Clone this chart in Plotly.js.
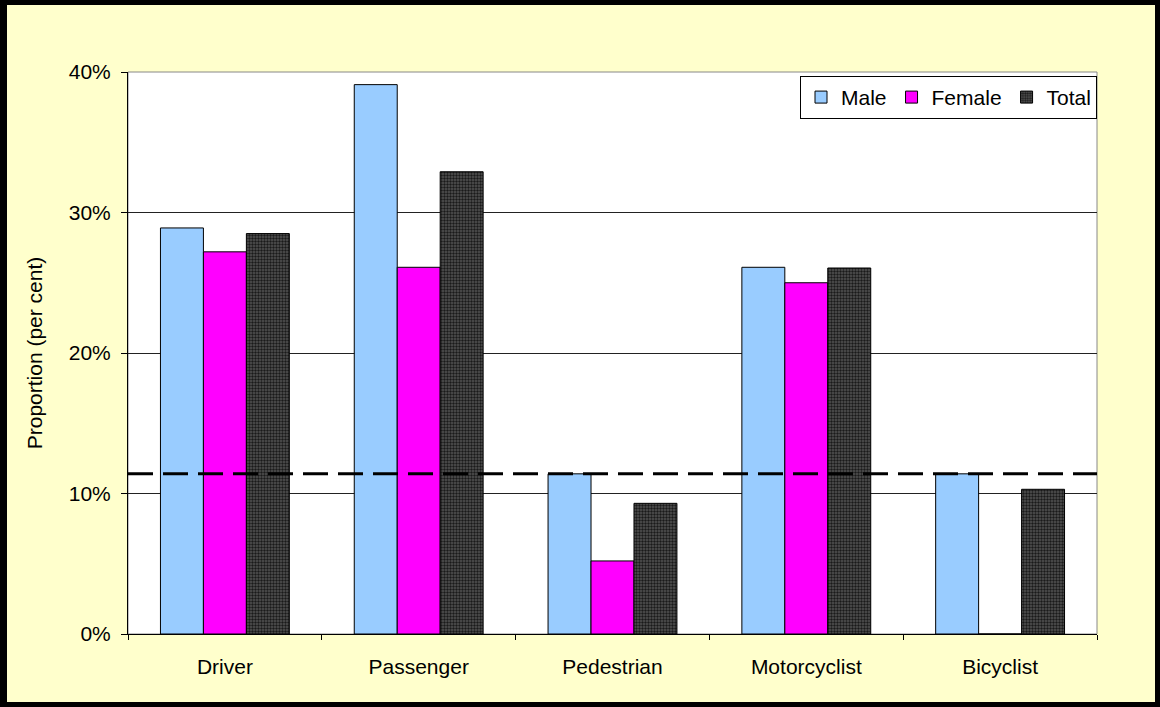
<!DOCTYPE html>
<html><head><meta charset="utf-8">
<script src="https://cdn.plot.ly/plotly-3.0.1.min.js"></script>
<style>
html,body{margin:0;padding:0;background:#FFFFCC;}
#wrap{width:1160px;height:707px;box-sizing:border-box;border:5px solid #000;border-left-width:7px;background:#FFFFCC;}
#chart{width:1148px;height:697px;}
</style></head>
<body><div id="wrap"><div id="chart"></div></div>
<script>
const categories = ["Driver", "Passenger", "Pedestrian", "Motorcyclist", "Bicyclist"];
const male   = [28.9, 39.1, 11.4, 26.1, 11.4];
const female = [27.2, 26.1, 5.2, 25.0, 0];
const total  = [28.5, 32.9, 9.3, 26.05, 10.3];
const referenceLine = 11.4;
const yTicks = [0, 10, 20, 30, 40];
const yTickLabels = ["0%", "10%", "20%", "30%", "40%"];

const line = {color: "#000", width: 1};
const traces = [
  {type: "bar", name: "Male", x: categories, y: male, marker: {color: "#99CCFF", line: line}},
  {type: "bar", name: "Female", x: categories, y: female, marker: {color: "#FF00FF", line: line}},
  {type: "bar", name: "Total", x: categories, y: total,
   marker: {color: "#444444", line: line,
            pattern: {shape: ".", bgcolor: "#555555", fgcolor: "#1a1a1a", size: 3, solidity: 0.5}}}
];

const layout = {
  width: 1148, height: 697,
  paper_bgcolor: "#FFFFCC", plot_bgcolor: "#FFFFFF",
  margin: {l: 121, r: 58, t: 67, b: 68},
  font: {family: "Liberation Sans, Arial, sans-serif", size: 21, color: "#000"},
  barmode: "group", bargap: 0.335, bargroupgap: 0,
  showlegend: true,
  legend: {orientation: "h", x: 1, xanchor: "right", y: 0.993, yanchor: "top",
           bgcolor: "#FFFFFF", bordercolor: "#000", borderwidth: 1,
           font: {size: 21}, traceorder: "normal", itemwidth: 30},
  xaxis: {type: "category", tickson: "boundaries", ticks: "outside", ticklen: 5, tickcolor: "#000",
          showline: true, linecolor: "#000", linewidth: 1, showgrid: false,
          tickfont: {size: 21}, ticklabelstandoff: 14},
  yaxis: {range: [0, 40], tickvals: yTicks, ticktext: yTickLabels, ticks: "outside", ticklen: 6,
          tickcolor: "#000", showline: true, linecolor: "#000", linewidth: 1,
          showgrid: true, gridcolor: "#222", gridwidth: 1, zeroline: false,
          tickfont: {size: 21}, ticklabelstandoff: 6,
          title: {text: "Proportion (per cent)", font: {size: 21}, standoff: 20}},
  shapes: [
    {type: "rect", xref: "paper", yref: "paper", x0: 0, x1: 1, y0: 0, y1: 1,
     line: {color: "#888", width: 1}, layer: "below"},
    {type: "line", xref: "paper", yref: "y", x0: 0, x1: 1, y0: referenceLine, y1: referenceLine,
     line: {color: "#000", width: 3, dash: "25px,10px"}}
  ]
};

Plotly.newPlot("chart", traces, layout, {displayModeBar: false, staticPlot: true});
</script></body></html>
